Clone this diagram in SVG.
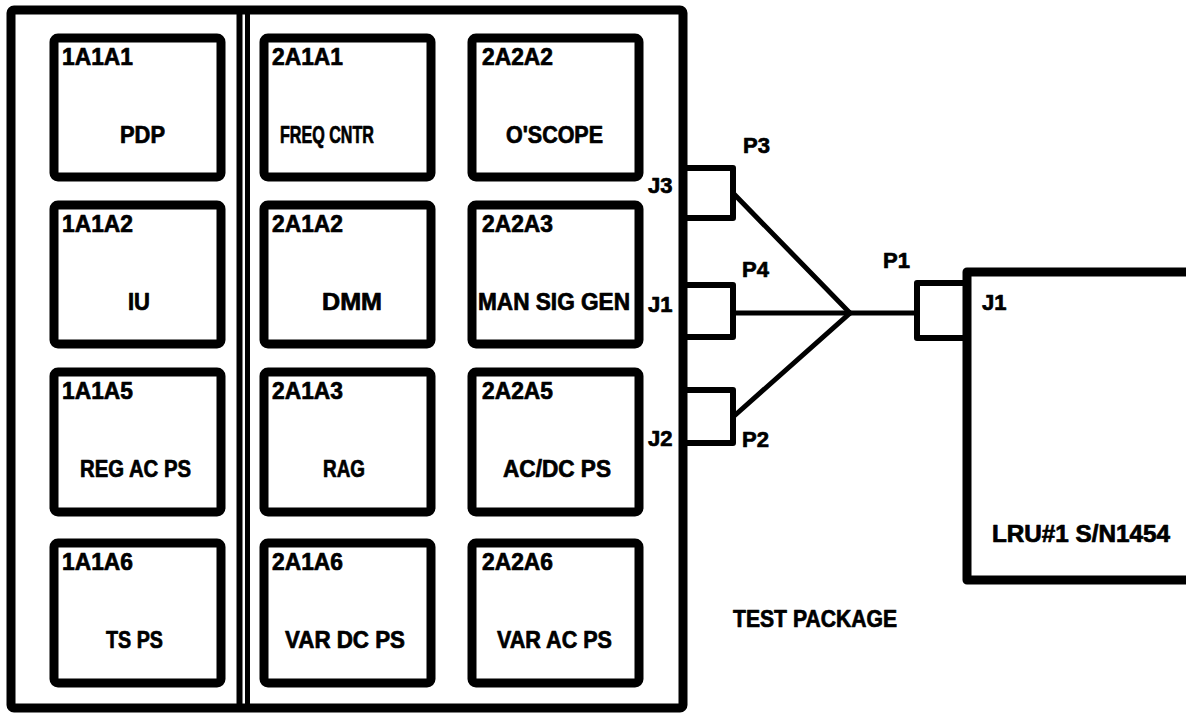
<svg xmlns="http://www.w3.org/2000/svg" width="1186" height="714" viewBox="0 0 1186 714">
<style>
.bx{fill:none;stroke:#000;stroke-width:9;stroke-linejoin:round}
.frame{fill:none;stroke:#000;stroke-width:9;stroke-linejoin:round}
.con{fill:none;stroke:#000;stroke-width:6;stroke-linejoin:round}
.wire{fill:none;stroke:#000;stroke-width:5;stroke-linecap:round}
text{font-family:"Liberation Sans",Arial,sans-serif;font-weight:bold;font-size:23px;fill:#000;stroke:#000;stroke-width:0.7;stroke-linejoin:round}
.sm{font-size:22px}
</style>
<rect width="1186" height="714" fill="#fff"/>
<g id="test-package">
<rect class="frame" x="11" y="10" width="672" height="698" rx="3"/>
<line x1="239.5" y1="10" x2="239.5" y2="708" stroke="#000" stroke-width="6"/>
<line x1="247.5" y1="10" x2="247.5" y2="708" stroke="#000" stroke-width="5"/>
<text x="733" y="627" textLength="164" lengthAdjust="spacingAndGlyphs">TEST PACKAGE</text>
</g>
<g id="n1A1A1"><rect class="bx" x="54" y="38" width="167" height="139" rx="4"/><text x="62" y="65" textLength="71" lengthAdjust="spacingAndGlyphs">1A1A1</text><text x="120" y="143" textLength="45" lengthAdjust="spacingAndGlyphs">PDP</text></g>
<g id="n2A1A1"><rect class="bx" x="264" y="38" width="167" height="139" rx="4"/><text x="272" y="65" textLength="71" lengthAdjust="spacingAndGlyphs">2A1A1</text><text x="280" y="143" textLength="94" lengthAdjust="spacingAndGlyphs">FREQ CNTR</text></g>
<g id="n2A2A2"><rect class="bx" x="472" y="38" width="167" height="139" rx="4"/><text x="482" y="65" textLength="71" lengthAdjust="spacingAndGlyphs">2A2A2</text><text x="506" y="143" textLength="97" lengthAdjust="spacingAndGlyphs">O'SCOPE</text></g>
<g id="n1A1A2"><rect class="bx" x="54" y="205" width="167" height="139" rx="4"/><text x="62" y="232" textLength="71" lengthAdjust="spacingAndGlyphs">1A1A2</text><text x="128" y="310" textLength="22" lengthAdjust="spacingAndGlyphs">IU</text></g>
<g id="n2A1A2"><rect class="bx" x="264" y="205" width="167" height="139" rx="4"/><text x="272" y="232" textLength="71" lengthAdjust="spacingAndGlyphs">2A1A2</text><text x="322" y="310" textLength="60" lengthAdjust="spacingAndGlyphs">DMM</text></g>
<g id="n2A2A3"><rect class="bx" x="472" y="205" width="167" height="139" rx="4"/><text x="482" y="232" textLength="71" lengthAdjust="spacingAndGlyphs">2A2A3</text><text x="478" y="310" textLength="152" lengthAdjust="spacingAndGlyphs">MAN SIG GEN</text></g>
<g id="n1A1A5"><rect class="bx" x="54" y="372" width="167" height="140" rx="4"/><text x="62" y="399" textLength="71" lengthAdjust="spacingAndGlyphs">1A1A5</text><text x="80" y="477" textLength="111" lengthAdjust="spacingAndGlyphs">REG AC PS</text></g>
<g id="n2A1A3"><rect class="bx" x="264" y="372" width="167" height="140" rx="4"/><text x="272" y="399" textLength="71" lengthAdjust="spacingAndGlyphs">2A1A3</text><text x="323" y="477" textLength="42" lengthAdjust="spacingAndGlyphs">RAG</text></g>
<g id="n2A2A5"><rect class="bx" x="472" y="372" width="167" height="140" rx="4"/><text x="482" y="399" textLength="71" lengthAdjust="spacingAndGlyphs">2A2A5</text><text x="503" y="477" textLength="108" lengthAdjust="spacingAndGlyphs">AC/DC PS</text></g>
<g id="n1A1A6"><rect class="bx" x="54" y="543" width="167" height="140" rx="4"/><text x="62" y="570" textLength="71" lengthAdjust="spacingAndGlyphs">1A1A6</text><text x="106" y="648" textLength="57" lengthAdjust="spacingAndGlyphs">TS PS</text></g>
<g id="n2A1A6"><rect class="bx" x="264" y="543" width="167" height="140" rx="4"/><text x="272" y="570" textLength="71" lengthAdjust="spacingAndGlyphs">2A1A6</text><text x="285" y="648" textLength="120" lengthAdjust="spacingAndGlyphs">VAR DC PS</text></g>
<g id="n2A2A6"><rect class="bx" x="472" y="543" width="167" height="140" rx="4"/><text x="482" y="570" textLength="71" lengthAdjust="spacingAndGlyphs">2A2A6</text><text x="497" y="648" textLength="115" lengthAdjust="spacingAndGlyphs">VAR AC PS</text></g>
<g id="lru">
<path class="frame" d="M1195,272 H967 V580 H1195"/>
<text class="sm" x="982" y="310">J1</text>
<text x="992" y="542" textLength="178" lengthAdjust="spacingAndGlyphs">LRU#1 S/N1454</text>
</g>
<g id="connectors">
<path class="con" d="M683,168 H733 V218 H683"/>
<path class="con" d="M683,285 H733 V337 H683"/>
<path class="con" d="M683,390 H733 V443 H683"/>
<path class="con" d="M967,283 H917 V338 H967"/>
<path class="wire" d="M733,193 L850,313 L733,417"/>
<line class="wire" x1="733" y1="313" x2="850" y2="313"/>
<line class="wire" x1="850" y1="313" x2="917" y2="313" stroke-width="3.5"/>
<text class="sm" x="648" y="193">J3</text>
<text class="sm" x="743" y="153">P3</text>
<text class="sm" x="648" y="312">J1</text>
<text class="sm" x="742" y="277">P4</text>
<text class="sm" x="883" y="268">P1</text>
<text class="sm" x="648" y="446">J2</text>
<text class="sm" x="742" y="447">P2</text>
</g>
</svg>
